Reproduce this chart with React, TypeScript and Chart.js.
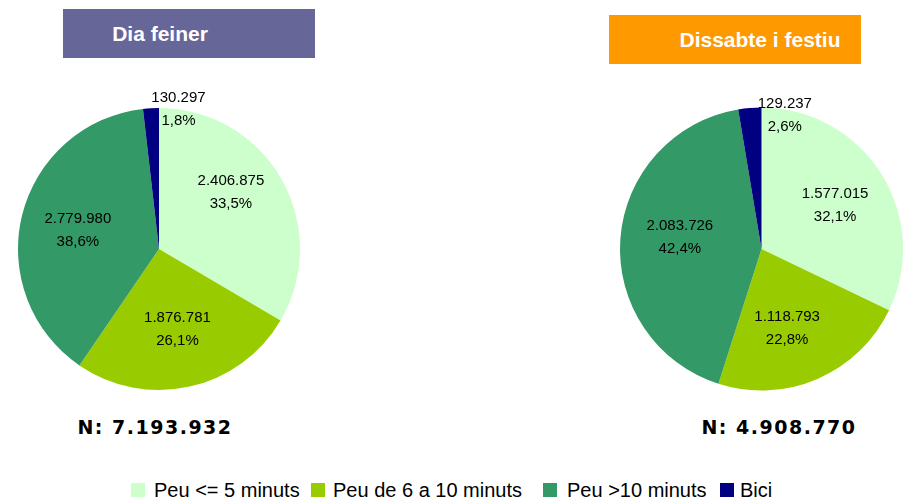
import React, { useEffect, useRef } from "react";
import { Chart, registerables } from "chart.js";

Chart.register(...registerables);

// ---------- data ----------
const categories = ["Peu <= 5 minuts", "Peu de 6 a 10 minuts", "Peu >10 minuts", "Bici"];
const sliceColors = ["#CCFFCC", "#99CC00", "#339966", "#000080"];
const weekdayValues = [2406875, 1876781, 2779980, 130297];
const weekendValues = [1577015, 1118793, 2083726, 129237];
const weekdayTitle = "Dia feiner";
const weekendTitle = "Dissabte i festiu";
const weekdayTotalLabel = "N: 7.193.932";
const weekendTotalLabel = "N: 4.908.770";

const FONT = "'Liberation Sans', Arial, Helvetica, sans-serif";

const fmtThousands = (v: number) => v.toString().replace(/\B(?=(\d{3})+(?!\d))/g, ".");
const fmtPct = (p: number) => p.toFixed(1).replace(".", ",");

const sliceLabelPlugin = {
  id: "sliceLabels",
  afterDatasetsDraw(chart: any, _args: any, opts: any) {
    const ctx = chart.ctx;
    const meta = chart.getDatasetMeta(0);
    const data = chart.data.datasets[0].data as number[];
    const total = data.reduce((a, b) => a + b, 0);
    const offsets = (opts && opts.offsets) || [];
    ctx.save();
    ctx.font = `15px ${FONT}`;
    ctx.fillStyle = "#000000";
    ctx.textAlign = "center";
    ctx.textBaseline = "middle";
    meta.data.forEach((arc: any, i: number) => {
      const p = arc.getProps(["x", "y", "startAngle", "endAngle", "outerRadius"], true);
      const mid = (p.startAngle + p.endAngle) / 2;
      const frac = data[i] / total;
      const dist = frac < 0.05 ? p.outerRadius : p.outerRadius * 0.6;
      const off = offsets[i] || [0, 0];
      const lx = p.x + Math.cos(mid) * dist + off[0];
      const ly = p.y + Math.sin(mid) * dist + off[1];
      ctx.fillText(fmtThousands(data[i]), lx, ly - 11.5);
      ctx.fillText(fmtPct(frac * 100) + "%", lx, ly + 11.5);
    });
    ctx.restore();
  },
};

type PieProps = {
  values: number[];
  left: number;
  top: number;
  width: number;
  height: number;
  cx: number;
  cy: number;
  r: number;
  offsets: number[][];
};

function Pie({ values, left, top, width, height, cx, cy, r, offsets }: PieProps) {
  const ref = useRef<HTMLCanvasElement>(null);
  useEffect(() => {
    if (!ref.current) return;
    const padding = {
      left: cx - r - left,
      right: left + width - (cx + r),
      top: cy - r - top,
      bottom: top + height - (cy + r),
    };
    const chart = new Chart(ref.current, {
      type: "pie",
      data: {
        labels: categories,
        datasets: [
          {
            data: values,
            backgroundColor: sliceColors,
            borderWidth: 0,
            hoverOffset: 0,
            radius: r,
          } as any,
        ],
      },
      options: {
        responsive: false,
        maintainAspectRatio: false,
        animation: false,
        events: [],
        layout: { padding },
        plugins: {
          legend: { display: false },
          tooltip: { enabled: false },
          sliceLabels: { offsets },
        } as any,
      },
      plugins: [sliceLabelPlugin],
    });
    return () => chart.destroy();
  }, []);
  return (
    <canvas
      ref={ref}
      width={width}
      height={height}
      style={{ position: "absolute", left, top, width, height }}
    />
  );
}

function TitleBox({ text, left, top, bg, textCx }: { text: string; left: number; top: number; bg: string; textCx: number }) {
  return (
    <>
      <div style={{ position: "absolute", left, top, width: 252, height: 49, background: bg }} />
      <div
        style={{
          position: "absolute",
          left: textCx - 150,
          top,
          width: 300,
          height: 49,
          display: "flex",
          alignItems: "center",
          justifyContent: "center",
          color: "#ffffff",
          fontFamily: FONT,
          fontWeight: "bold",
          fontSize: 21,
        }}
      >
        {text}
      </div>
    </>
  );
}

function TotalLabel({ text, cx }: { text: string; cx: number }) {
  return (
    <div
      style={{
        position: "absolute",
        left: cx - 150,
        top: 415,
        width: 300,
        textAlign: "center",
        fontFamily: "'DejaVu Sans', Verdana, sans-serif",
        fontWeight: "bold",
        fontSize: 19,
        lineHeight: "24px",
        letterSpacing: "1.5px",
        color: "#000",
      }}
    >
      {text}
    </div>
  );
}

const legendBoxX = [131, 311, 543, 720];
const legendTextX = [154, 333, 567, 740];

export default function App() {
  return (
    <div
      style={{
        position: "absolute",
        left: 0,
        top: 0,
        width: 903,
        height: 499,
        overflow: "hidden",
        background: "#ffffff",
      }}
    >
      <TitleBox text={weekdayTitle} left={63} top={9} bg="#666699" textCx={160} />
      <TitleBox text={weekendTitle} left={609} top={15} bg="#FF9900" textCx={760} />
      <Pie
        values={weekdayValues}
        left={0}
        top={85}
        width={330}
        height={330}
        cx={159}
        cy={249}
        r={141}
        offsets={[[-1.5, -15], [0, -2.5], [1, 1.5], [27.5, 1.3]]}
      />
      <Pie
        values={weekendValues}
        left={590}
        top={85}
        width={313}
        height={330}
        cx={761.5}
        cy={249}
        r={141.5}
        offsets={[[1.7, 1.2], [-8, 1], [3, -6], [35, 7.5]]}
      />
      <TotalLabel text={weekdayTotalLabel} cx={155} />
      <TotalLabel text={weekendTotalLabel} cx={779} />
      {categories.map((c, i) => (
        <React.Fragment key={c}>
          <div
            style={{
              position: "absolute",
              left: legendBoxX[i],
              top: 483,
              width: 14,
              height: 14,
              background: sliceColors[i],
            }}
          />
          <div
            style={{
              position: "absolute",
              left: legendTextX[i],
              top: 480,
              fontFamily: FONT,
              fontSize: 20,
              lineHeight: "20px",
              whiteSpace: "nowrap",
              color: "#000",
            }}
          >
            {c}
          </div>
        </React.Fragment>
      ))}
    </div>
  );
}
